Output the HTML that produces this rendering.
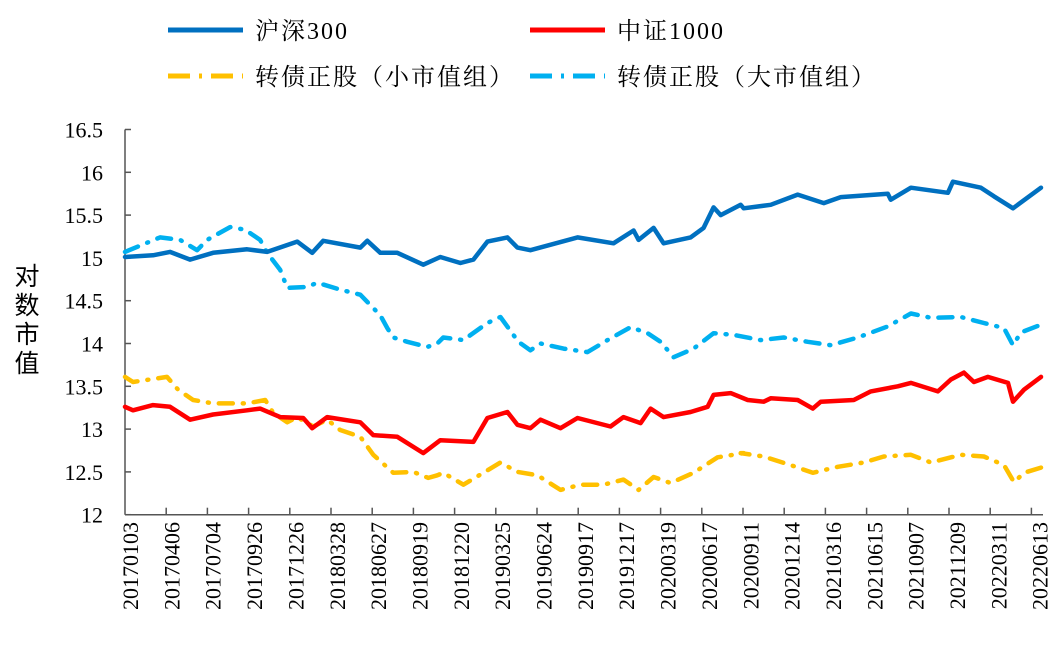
<!DOCTYPE html>
<html><head><meta charset="utf-8"><style>
body{margin:0;background:#fff}
svg{display:block}
</style></head><body>
<svg id="chart" width="1062" height="654" xmlns="http://www.w3.org/2000/svg" font-family="'Liberation Serif','Noto Serif CJK SC',serif">
<g id="legend" font-size="24" letter-spacing="2">
 <g><line x1="168" y1="30" x2="243" y2="30" stroke="#0070C0" stroke-width="5"/><text x="255" y="39">沪深300</text></g>
 <g><line x1="530" y1="30" x2="605" y2="30" stroke="#FF0000" stroke-width="5"/><text x="617" y="39">中证1000</text></g>
 <g><line x1="168" y1="76" x2="243" y2="76" stroke="#FFC000" stroke-width="5" stroke-dasharray="22 9 3 9"/><text x="255" y="85">转债正股（小市值组）</text></g>
 <g><line x1="530" y1="76" x2="605" y2="76" stroke="#00B0F0" stroke-width="5" stroke-dasharray="22 9 3 9"/><text x="617" y="85">转债正股（大市值组）</text></g>
</g>
<text font-family="'Liberation Sans','Noto Sans CJK SC',sans-serif" font-size="25" text-anchor="middle"><tspan x="27" y="285">对</tspan><tspan x="27" y="314">数</tspan><tspan x="27" y="343">市</tspan><tspan x="27" y="372">值</tspan></text>
<g id="axes"></g>
<g id="series"></g>
</svg>
<script>
const yTicks=[12,12.5,13,13.5,14,14.5,15,15.5,16,16.5];
const xLabels=["20170103","20170406","20170704","20170926","20171226","20180328","20180627","20180919","20181220","20190325","20190624","20190917","20191217","20200319","20200617","20200911","20201214","20210316","20210615","20210907","20211209","20220311","20220613"];
// day index (0..915 across the timeline) and values
const dayHS=[0,28,45,65,88,122,142,172,187,198,235,242,255,272,298,315,335,348,362,382,392,405,452,488,508,513,528,538,565,578,588,595,615,618,645,672,698,715,762,765,785,822,827,855,868,887,915];
const valHS=[15.01,15.03,15.07,14.98,15.06,15.10,15.07,15.19,15.06,15.20,15.12,15.20,15.06,15.06,14.92,15.01,14.94,14.98,15.19,15.24,15.12,15.09,15.24,15.17,15.32,15.21,15.35,15.17,15.24,15.35,15.59,15.50,15.62,15.58,15.62,15.74,15.64,15.71,15.75,15.68,15.82,15.76,15.89,15.82,15.72,15.58,15.82];
const dayCSI=[0,8,28,45,65,88,122,135,155,178,187,202,235,248,272,298,315,348,362,382,392,405,415,435,452,485,498,515,525,538,565,582,588,605,622,638,645,672,687,695,728,745,772,785,812,825,838,848,862,882,887,898,915];
const valCSI=[13.26,13.22,13.28,13.26,13.11,13.17,13.22,13.24,13.14,13.13,13.01,13.14,13.08,12.93,12.91,12.72,12.87,12.85,13.13,13.20,13.05,13.01,13.11,13.01,13.13,13.03,13.14,13.07,13.24,13.14,13.20,13.26,13.40,13.42,13.34,13.32,13.36,13.34,13.24,13.32,13.34,13.44,13.50,13.54,13.44,13.58,13.66,13.55,13.61,13.54,13.32,13.46,13.61];
const daySmall=[0,8,42,53,68,88,122,140,148,162,172,188,202,215,235,248,268,288,303,312,318,338,358,375,392,412,435,455,478,498,513,528,545,568,592,618,615,638,665,687,712,738,758,785,805,835,858,878,888,898,915];
const valSmall=[13.61,13.55,13.61,13.46,13.34,13.30,13.30,13.34,13.19,13.08,13.14,13.03,13.11,12.99,12.91,12.70,12.49,12.50,12.43,12.46,12.49,12.35,12.49,12.61,12.50,12.46,12.29,12.35,12.35,12.41,12.29,12.44,12.37,12.49,12.67,12.72,12.72,12.68,12.58,12.49,12.56,12.61,12.68,12.70,12.61,12.70,12.68,12.58,12.38,12.49,12.55];
const dayLarge=[0,35,55,72,82,105,120,135,142,155,162,182,192,215,235,255,262,268,282,302,312,318,338,362,375,393,405,415,438,462,482,505,522,535,548,568,588,608,635,658,682,705,732,762,785,805,835,858,878,887,895,915];
const valLarge=[15.07,15.24,15.21,15.09,15.21,15.36,15.33,15.21,15.06,14.86,14.65,14.66,14.71,14.63,14.57,14.33,14.18,14.07,14.02,13.96,14.0,14.07,14.04,14.24,14.31,14.02,13.92,14.0,13.94,13.90,14.04,14.19,14.12,14.02,13.84,13.94,14.12,14.10,14.04,14.07,14.02,13.98,14.07,14.20,14.35,14.30,14.31,14.24,14.18,13.98,14.13,14.22];

const X0=125,X1=1041,DMAX=915,Y0=514.7,Y1=129.5;
const xS=d=>X0+(d/DMAX)*(X1-X0);
const yS=v=>Y0-(v-12)/(16.5-12)*(Y0-Y1);
const NS="http://www.w3.org/2000/svg";
const axes=document.getElementById('axes');
function mk(tag,attrs,parent){const e=document.createElementNS(NS,tag);for(const k in attrs)e.setAttribute(k,attrs[k]);parent.appendChild(e);return e;}
const ya=mk('line',{x1:X0,y1:Y1,x2:X0,y2:Y0,stroke:'#555','stroke-width':1.5},axes);


const xa=mk('line',{x1:X0,y1:Y0,x2:1043,y2:Y0,stroke:'#555','stroke-width':1.5},axes);


yTicks.forEach(v=>{
 mk('line',{x1:X0,y1:yS(v),x2:X0+6,y2:yS(v),stroke:'#555','stroke-width':1.5},axes);
 const t=mk('text',{x:103,y:yS(v)+8,'font-size':22,'text-anchor':'end'},axes);
 t.textContent=String(v);
 
 
});
for(let i=1;i<=22;i++){const x=X0+i*41.2;mk('line',{x1:x,y1:Y0,x2:x,y2:Y0-7,stroke:'#555','stroke-width':1.5},axes);}
xLabels.forEach((l,i)=>{
 const x=X0+i*41.35+13;
 const t=mk('text',{x:0,y:0,'font-size':22,'text-anchor':'end',transform:`translate(${x},522) rotate(-90)`},axes);
 t.textContent=l;
 
 
});
const ser=document.getElementById('series');
function draw(days,vals,color,dash,name){
 const d=days.map((dd,i)=>(i?'L':'M')+xS(dd).toFixed(1)+','+yS(vals[i]).toFixed(1)).join('');
 const p=mk('path',{d:d,fill:'none',stroke:color,'stroke-width':4.5,'stroke-linejoin':'round','stroke-linecap':'round'},ser);
 if(dash)p.setAttribute('stroke-dasharray',dash);
 
 
}
draw(daySmall,valSmall,'#FFC000','14 10 1 10','small-cap-line');
draw(dayLarge,valLarge,'#00B0F0','14 10 1 10','large-cap-line');
draw(dayCSI,valCSI,'#FF0000',null,'csi1000-line');
draw(dayHS,valHS,'#0070C0',null,'hs300-line');
</script>
</body></html>
